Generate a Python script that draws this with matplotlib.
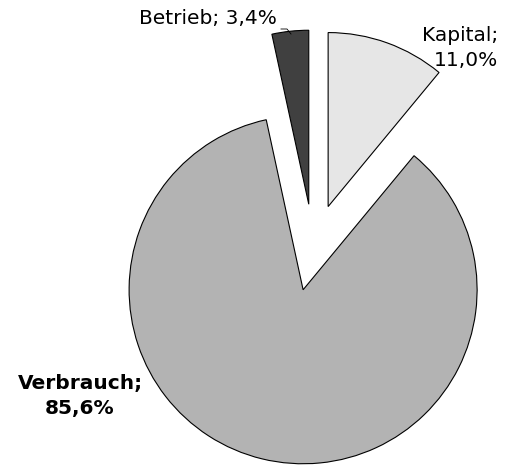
import numpy as np
from matplotlib import pyplot as plt

labels = ["Kapital", "Betrieb", "Verbrauch"]
values = [11.0, 3.4, 85.6]
colors = ["#e6e6e6", "#404040", "#b3b3b3"]
explode = [0.25, 0.25, 0.25]

fig = plt.figure(figsize=(5.15, 4.66), dpi=100)
ax = fig.add_axes([0, 0, 1, 1])
# Kapital ends at the top, the others follow counterclockwise
start = 90 - values[0] / 100 * 360
ax.pie(values, colors=colors, explode=explode, startangle=start, counterclock=True,
       radius=1, wedgeprops=dict(edgecolor="black", linewidth=0.8))

# pixel-based frame: center at (313, 247), radius 174 px
s = 174.0
cx, cy = 313.4, 247.5
ax.set_xlim(-cx / s, (515 - cx) / s)
ax.set_ylim(-(466 - cy) / s, cy / s)
ax.set_aspect("auto")
ax.axis("off")

def p(px, py):
    return (px - cx) / s, (cy - py) / s

fs = 14.5
ax.text(*p(498, 48), "Kapital;\n11,0%", ha="right", va="center",
        multialignment="right", fontsize=fs, linespacing=1.4)
ax.text(*p(277, 18), "Betrieb; 3,4%", ha="right", va="center", fontsize=fs)
ax.text(*p(80, 396), "Verbrauch;\n85,6%", ha="center", va="center",
        fontsize=fs, fontweight="bold", linespacing=1.35)
x0, y0 = p(281, 29)
x1, y1 = p(287, 29)
x2, y2 = p(291, 34)
ax.plot([x0, x1, x2], [y0, y1, y2], color="black", linewidth=0.6)

fig.savefig("out.png", dpi=100)
